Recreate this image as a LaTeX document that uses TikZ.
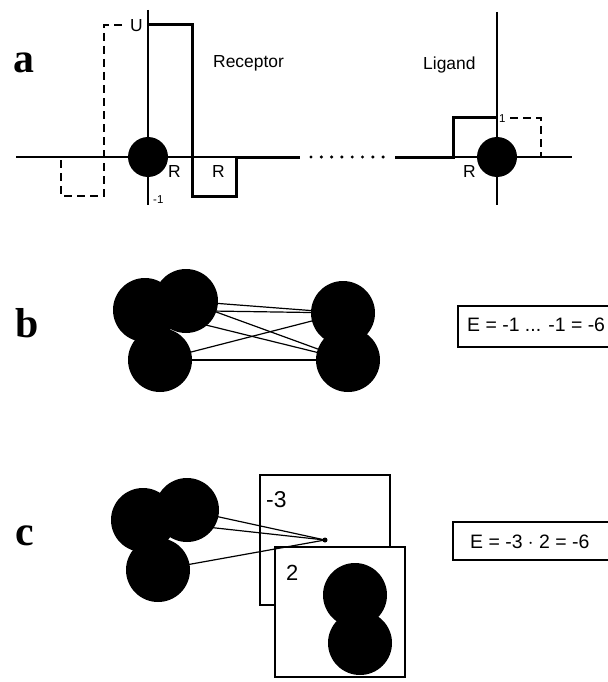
\documentclass[tikz,border=0pt]{standalone}
\usepackage{fontspec}
\setmainfont{Liberation Sans}
\newfontfamily\panelfont{Liberation Serif}
\pgfdeclarelayer{background}
\pgfsetlayers{background,main}
\begin{document}
\begin{tikzpicture}[x=1bp,y=-1bp,
  axisline/.style={line width=1.1bp},
  pot/.style={line width=3bp, line join=miter},
  mirror/.style={line width=1.2bp, dash pattern=on 8bp off 5bp},
  ball/.style={circle, fill=black, inner sep=0pt, minimum size=64bp},
  atom/.style={circle, fill=black, inner sep=0pt, minimum size=40bp},
  contact/.style={line width=1.2bp},
  lbl/.style={inner sep=0pt, anchor=base west, font=\fontsize{17.5}{19}\selectfont},
  tiny/.style={inner sep=0pt, anchor=base west, font=\fontsize{11.5}{13}\selectfont},
  panel/.style={inner sep=0pt, anchor=base west, font=\panelfont\bfseries\fontsize{42}{44}\selectfont},
  card/.style={draw, fill=white, line width=1.2bp, inner sep=0pt, minimum width=130bp, minimum height=130bp},
  ebox/.style={line width=1.2bp},
  etext/.style={inner sep=0pt, anchor=base west, font=\fontsize{19.5}{21}\selectfont}]
\useasboundingbox (0,0) rectangle (608,682);
\clip (0,0) rectangle (608,682);

% ---------- a: square-well potentials of receptor and ligand ----------
\coordinate (rc) at (148,157);
\coordinate (lc) at (497,157);
\draw[axisline] (16,157) -- (237,157);
\draw[axisline] (148,10) -- (148,205);
\draw[axisline] (453,157) -- (572,157);
\draw[axisline] (497,12) -- (497,205);
\draw[pot] (148,25) -- (192,25) -- (192,196) -- (236,196) -- (236,157) -- (300,157);
\draw[pot] (395,157) -- (453,157) -- (453,118) -- (497,118);
\draw[mirror] (122,25) -- (104,25) -- (104,196) -- (61,196) -- (61,157);
\draw[mirror] (510,118) -- (541,118) -- (541,157);
\foreach \i in {0,...,7} \fill (311+10.3*\i,157) circle (1.7bp);
\node[atom] (ratom) at (rc) {};
\node[atom] (latom) at (lc) {};

\node[panel] (pa) at (13,73) {a};
\node[lbl] (U) at (130,32) {U};
\node[lbl] (rec) at (213,68) {Receptor};
\node[lbl] (lig) at (423,70) {Ligand};
\node[lbl] (R1) at (168,177) {R};
\node[lbl] (R2) at (212,177) {R};
\node[lbl] (R3) at (463,177) {R};
\node[tiny] (m1) at (153,203) {-1};
\node[tiny] (p1) at (499,123) {1};

% ---------- b: pairwise contacts ----------
\node[panel] (pb) at (15,337) {b};
\node[ball] (bL1) at (145,310) {};
\node[ball] (bL2) at (186,301) {};
\node[ball] (bL3) at (160,360) {};
\node[ball] (bR1) at (343,313) {};
\node[ball] (bR2) at (348,360) {};
\begin{pgfonlayer}{background}
  \foreach \a in {bL1,bL2,bL3}
    \foreach \b in {bR1,bR2}
      \draw[contact] (\a.center) -- (\b.center);
\end{pgfonlayer}
\draw[ebox] (620,306) -- (458,306) -- (458,347) -- (620,347);
\node[etext] (eb) at (467,331) {E = -1 ... -1 = -6};

% ---------- c: grid-based evaluation ----------
\node[panel] (pc) at (15,545) {c};
\node[ball] (cL1) at (143,520) {};
\node[ball] (cL2) at (187,510) {};
\node[ball] (cL3) at (158,570) {};
\node[ball] (cM1) at (355,595) {};
\node[ball] (cM2) at (360,643) {};
\begin{pgfonlayer}{background}
  \node[card] (gridA) at (325,540) {};
  \node[card] (gridB) at (340,612) {};
  \coordinate (pt) at (gridA.center);
  \foreach \a in {cL1,cL2,cL3}
    \draw[contact] (\a.center) -- (pt);
  \fill (pt) circle (2.5bp);
\end{pgfonlayer}
\node[inner sep=0pt, anchor=base west, font=\fontsize{23}{25}\selectfont] (gA) at (266,507) {-3};
\node[inner sep=0pt, anchor=base west, font=\fontsize{22}{24}\selectfont] (gB) at (286,580) {2};
\draw[ebox] (620,522) -- (453,522) -- (453,560) -- (620,560);
\node[etext] (ec) at (470,548) {E = -3 $\cdot$ 2 = -6};
\end{tikzpicture}
\end{document}
